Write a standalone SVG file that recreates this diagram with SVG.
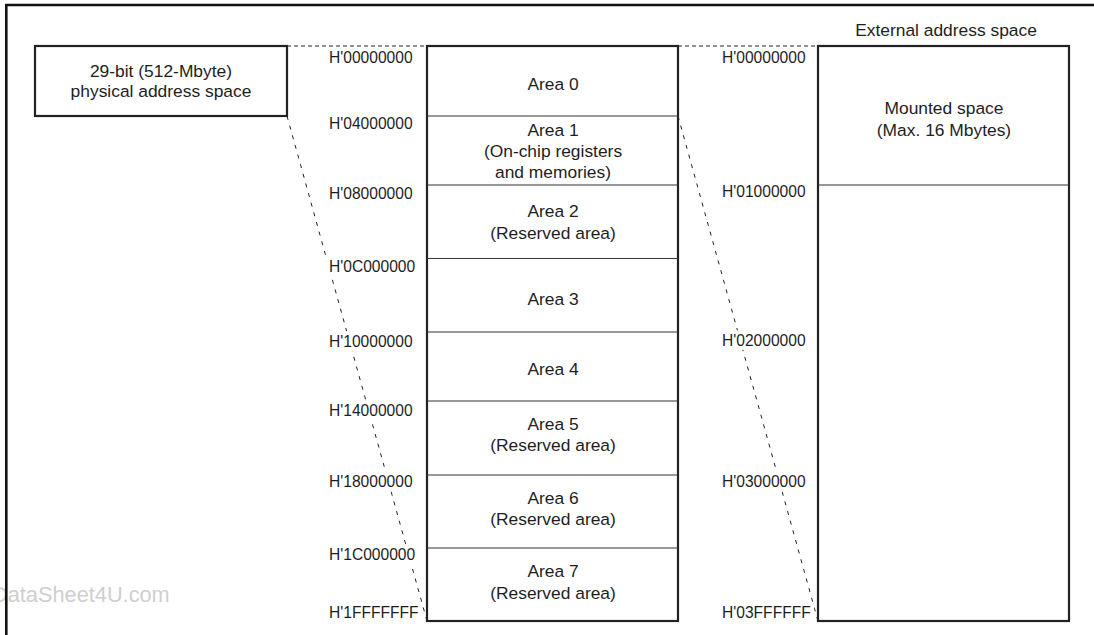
<svg xmlns="http://www.w3.org/2000/svg" width="1094" height="635" viewBox="0 0 1094 635">
<style>
  text { font-family: "Liberation Sans", Arial, sans-serif; fill: #1e1e1e; }
  .t { font-size: 17.4px; text-anchor: middle; }
  .a { font-size: 15.6px; stroke: #fff; stroke-width: 8; stroke-linejoin: round; paint-order: stroke; }
  .box { fill: #fff; stroke: #222; stroke-width: 2.2; }
  .div { stroke: #333; stroke-width: 1; fill: none; }
  .dash { stroke: #222; stroke-width: 1; fill: none; stroke-dasharray: 4 3; }
  .diag { stroke: #222; stroke-width: 1; fill: none; stroke-dasharray: 4 6; }
  .wm { font-size: 21.75px; fill: #cfcfcf; }
</style>
<rect width="1094" height="635" fill="#fff"/>
<text class="wm" x="-8" y="602">DataSheet4U.com</text>
<path d="M6.3 640 V5 H1100" fill="none" stroke="#111" stroke-width="2.6"/>

<g id="connectors">
  <line class="dash" x1="287" y1="46" x2="427" y2="46"/>
  <line class="dash" x1="678" y1="46" x2="830" y2="46"/>
  <line class="diag" x1="287" y1="116" x2="427" y2="621"/>
  <line class="diag" x1="678" y1="116" x2="818" y2="621"/>
</g>

<g id="physical-space">
  <rect class="box" x="35" y="46" width="252" height="70"/>
  <text class="t" x="161" y="77">29-bit (512-Mbyte)</text>
  <text class="t" x="161" y="97">physical address space</text>
</g>

<g id="physical-addresses">
  <text class="a" x="329" y="63">H'00000000</text>
  <text class="a" x="329" y="128.5">H'04000000</text>
  <text class="a" x="329" y="198.5">H'08000000</text>
  <text class="a" x="329" y="272">H'0C000000</text>
  <text class="a" x="329" y="346.5">H'10000000</text>
  <text class="a" x="329" y="416">H'14000000</text>
  <text class="a" x="329" y="486.5">H'18000000</text>
  <text class="a" x="329" y="560">H'1C000000</text>
  <text class="a" x="329" y="618">H'1FFFFFFF</text>
</g>

<g id="areas">
  <rect class="box" x="427" y="46" width="251" height="575"/>
  <line class="div" x1="427" y1="116" x2="678" y2="116"/>
  <line class="div" x1="427" y1="185" x2="678" y2="185"/>
  <line class="div" x1="427" y1="258.5" x2="678" y2="258.5"/>
  <line class="div" x1="427" y1="332" x2="678" y2="332"/>
  <line class="div" x1="427" y1="401" x2="678" y2="401"/>
  <line class="div" x1="427" y1="475" x2="678" y2="475"/>
  <line class="div" x1="427" y1="548" x2="678" y2="548"/>
  <g id="area0"><text class="t" x="553" y="90">Area 0</text></g>
  <g id="area1">
    <text class="t" x="553" y="135.5">Area 1</text>
    <text class="t" x="553" y="157">(On-chip registers</text>
    <text class="t" x="553" y="177.5">and memories)</text>
  </g>
  <g id="area2">
    <text class="t" x="553" y="217">Area 2</text>
    <text class="t" x="553" y="238.5">(Reserved area)</text>
  </g>
  <g id="area3"><text class="t" x="553" y="305">Area 3</text></g>
  <g id="area4"><text class="t" x="553" y="375">Area 4</text></g>
  <g id="area5">
    <text class="t" x="553" y="429.5">Area 5</text>
    <text class="t" x="553" y="451">(Reserved area)</text>
  </g>
  <g id="area6">
    <text class="t" x="553" y="503.5">Area 6</text>
    <text class="t" x="553" y="525">(Reserved area)</text>
  </g>
  <g id="area7">
    <text class="t" x="553" y="577">Area 7</text>
    <text class="t" x="553" y="598.5">(Reserved area)</text>
  </g>
</g>

<g id="external-addresses">
  <text class="a" x="722" y="63">H'00000000</text>
  <text class="a" x="722" y="197">H'01000000</text>
  <text class="a" x="722" y="346">H'02000000</text>
  <text class="a" x="722" y="487">H'03000000</text>
  <text class="a" x="722" y="618">H'03FFFFFF</text>
</g>

<g id="external-space">
  <text class="t" x="946" y="36">External address space</text>
  <rect class="box" x="818" y="46" width="251" height="575"/>
  <line class="div" x1="818" y1="185" x2="1069" y2="185"/>
  <text class="t" x="944" y="114">Mounted space</text>
  <text class="t" x="944" y="136">(Max. 16 Mbytes)</text>
</g>
</svg>
